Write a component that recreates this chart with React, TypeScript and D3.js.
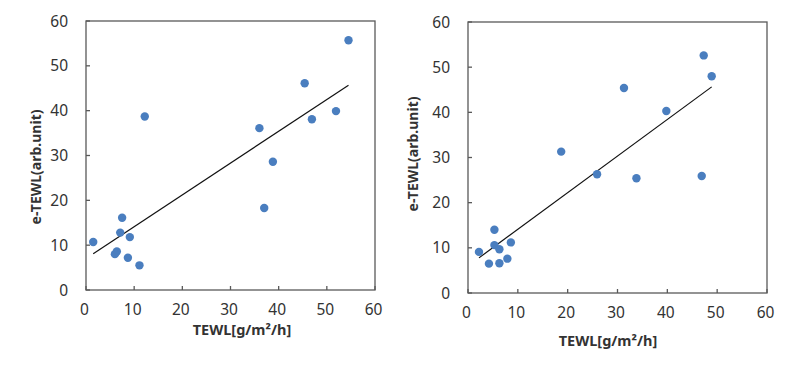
import React from "react";
import * as d3 from "d3";

// left panel data
const leftX = [54.5, 45.4, 51.9, 46.9, 36.0, 38.8, 12.2, 37.0, 7.5, 7.1, 9.1, 1.5, 6.4, 6.0, 8.7, 11.1];
const leftY = [55.7, 46.1, 39.9, 38.1, 36.1, 28.6, 38.7, 18.3, 16.1, 12.8, 11.8, 10.7, 8.6, 8.0, 7.2, 5.5];

// right panel data
const rightX = [47.3, 48.9, 31.3, 39.8, 18.7, 25.9, 33.8, 46.9, 5.3, 5.3, 8.6, 6.3, 2.2, 7.9, 6.3, 4.2];
const rightY = [52.6, 48.0, 45.4, 40.3, 31.3, 26.3, 25.4, 25.9, 14.0, 10.6, 11.2, 9.7, 9.1, 7.6, 6.6, 6.5];

const tickValues = [0, 10, 20, 30, 40, 50, 60];
const xTitle = "TEWL[g/m²/h]";
const yTitle = "e-TEWL(arb.unit)";

const font = "'Noto Sans', 'Open Sans', sans-serif";
const textColor = "#333";
const axisColor = "#595959";
const dotColor = "#4a7ebf";

interface PanelProps {
  xs: number[];
  ys: number[];
  left: number;
  right: number;
  top: number;
  bottom: number;
  yTitleX: number;
  yTitleY: number;
  xTitleX: number;
  xTitleY: number;
}

// simple least squares fit
function fit(xs: number[], ys: number[]) {
  const mx = d3.mean(xs)!;
  const my = d3.mean(ys)!;
  let sxy = 0, sxx = 0;
  xs.forEach((x, i) => {
    sxy += (x - mx) * (ys[i] - my);
    sxx += (x - mx) * (x - mx);
  });
  const slope = sxy / sxx;
  return { slope, intercept: my - slope * mx };
}

const Panel: React.FC<PanelProps> = ({ xs, ys, left, right, top, bottom, yTitleX, yTitleY, xTitleX, xTitleY }) => {
  const x = d3.scaleLinear().domain([0, 60]).range([left, right]);
  const y = d3.scaleLinear().domain([0, 60]).range([bottom, top]);
  const { slope, intercept } = fit(xs, ys);
  const [x0, x1] = d3.extent(xs) as [number, number];
  const line = d3.line<number>().x(d => x(d)).y(d => y(intercept + slope * d));

  return (
    <g>
      <rect x={left} y={top} width={right - left} height={bottom - top} fill="none" stroke={axisColor} strokeWidth={1.3} />
      {tickValues.map(t => (
        <g key={"x" + t}>
          <line x1={x(t)} x2={x(t)} y1={bottom} y2={bottom - 4} stroke={axisColor} strokeWidth={1.3} />
          <text x={x(t) - 1.5} y={bottom + 25} textAnchor="middle" fontSize={15.5} fill={textColor} fontFamily={font}>{t}</text>
        </g>
      ))}
      {tickValues.map(t => (
        <g key={"y" + t}>
          <line x1={left} x2={left + 4} y1={y(t)} y2={y(t)} stroke={axisColor} strokeWidth={1.3} />
          <text x={left - 18} y={y(t) + 5.5} textAnchor="end" fontSize={15.5} fill={textColor} fontFamily={font}>{t}</text>
        </g>
      ))}
      <path d={line([x0, x1]) ?? ""} fill="none" stroke="#111" strokeWidth={1.2} />
      {xs.map((v, i) => (
        <circle key={i} cx={x(v)} cy={y(ys[i])} r={4.2} fill={dotColor} />
      ))}
      <text x={xTitleX} y={xTitleY} textAnchor="middle" fontSize={14.5} fontWeight="bold" fill={textColor} fontFamily={font}>{xTitle}</text>
      <text transform={`translate(${yTitleX},${yTitleY}) rotate(-90)`} textAnchor="middle" fontSize={14} fontWeight="bold" fill={textColor} fontFamily={font}>{yTitle}</text>
    </g>
  );
};

export default function App() {
  return (
    <svg width={800} height={371} style={{ position: "absolute", left: 0, top: 0, background: "#fff" }}>
      <rect width={800} height={371} fill="#fff" />
      <Panel xs={leftX} ys={leftY} left={86} right={375} top={21} bottom={290}
        yTitleX={41} yTitleY={167} xTitleX={242} xTitleY={335} />
      <Panel xs={rightX} ys={rightY} left={468} right={767} top={22} bottom={293}
        yTitleX={418} yTitleY={154} xTitleX={608} xTitleY={346} />
    </svg>
  );
}
